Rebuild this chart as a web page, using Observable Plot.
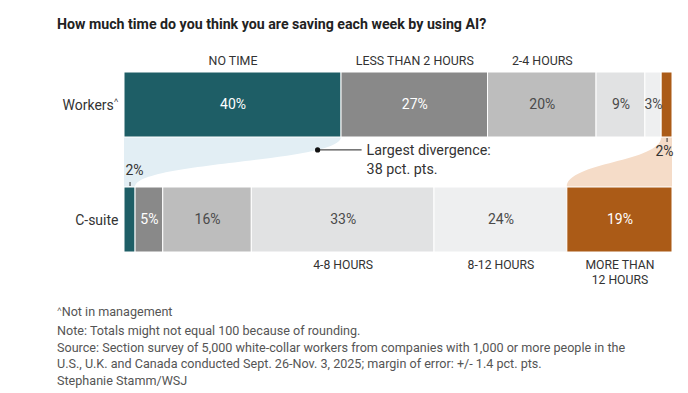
<!DOCTYPE html>
<html>
<head>
<meta charset="utf-8">
<script src="https://cdn.jsdelivr.net/npm/d3@7"></script>
<script src="https://cdn.jsdelivr.net/npm/@observablehq/plot@0.6"></script>
<style>
  body { margin: 0; background: #fff; font-family: Roboto, sans-serif; }
  #wrap { position: relative; width: 688px; height: 393px; overflow: hidden; }
  #title { position: absolute; left: 57px; top: 16px; font-weight: 700; font-size: 14.2px; line-height: 16px; color: #222; }
  #chart { position: absolute; left: 0; top: 40px; }
  #notes { position: absolute; left: 57px; top: 304px; font-size: 12.6px; line-height: 16.8px; color: #555; }
  .mark { font-size: 8px; position: relative; top: -4px; }
</style>
</head>
<body>
<div id="wrap">
  <div id="title">How much time do you think you are saving each week by using AI?</div>
  <div id="chart"></div>
  <div id="notes">
    <div><span class="mark">˄</span>Not in management</div>
    <div>Note: Totals might not equal 100 because of rounding.</div>
    <div>Source: Section survey of 5,000 white-collar workers from companies with 1,000 or more people in the</div>
    <div>U.S., U.K. and Canada conducted Sept. 26-Nov. 3, 2025; margin of error: +/- 1.4 pct. pts.</div>
    <div>Stephanie Stamm/WSJ</div>
  </div>
</div>
<script>
const categories = ["NO TIME", "LESS THAN 2 HOURS", "2-4 HOURS", "4-8 HOURS", "8-12 HOURS", "MORE THAN\n12 HOURS"];
const groups = ["Workers˄", "C-suite"];
const workers = [40, 27, 20, 9, 3, 2];
const csuite = [2, 5, 16, 33, 24, 19];
const colors = ["#1e5e66", "#898989", "#bdbdbd", "#e1e2e3", "#eeeff0", "#ab5b17"];
const ribbonColors = ["#e2eef4", "#f5dcc8"];

const series = [workers, csuite];
const table = [];
groups.forEach((g, gi) => series[gi].forEach((v, i) => table.push({group: g, gi, idx: i, category: categories[i], value: v})));

const darkIdx = new Set([0, 1, 5]);
const isSmall = d => d.value <= 2;

const stackOpts = {x: "value", y: "group", offset: "normalize"};

function ribbons(index, scales) {
  const {x, y} = scales;
  const bw = y.bandwidth();
  const yT = y(groups[0]) + bw, yB = y(groups[1]);
  const ym = (yT + yB) / 2;
  const share = (arr, i) => d3.sum(arr.slice(0, i)) / d3.sum(arr);
  const g = d3.create("svg:g");
  function link(a0, a1, b0, b1, fill) {
    const p = d3.path();
    p.moveTo(x(a0), yT); p.lineTo(x(a1), yT);
    p.bezierCurveTo(x(a1), ym, x(b1), ym, x(b1), yB);
    p.lineTo(x(b0), yB);
    p.bezierCurveTo(x(b0), ym, x(a0), ym, x(a0), yT);
    p.closePath();
    g.append("path").attr("d", p.toString()).attr("fill", fill);
  }
  const n = categories.length;
  link(0, share(workers, 1), 0, share(csuite, 1), ribbonColors[0]);
  link(share(workers, n - 1), 1, share(csuite, n - 1), 1, ribbonColors[1]);

  // annotation on the edge of the "no time" ribbon
  const s = 0.21;
  const bz = (p0, p1, p2, p3) => (1-s)**3*p0 + 3*(1-s)**2*s*p1 + 3*(1-s)*s*s*p2 + s**3*p3;
  const ax = x(share(workers, 1)), bx = x(share(csuite, 1));
  const px = bz(ax, ax, bx, bx), py = bz(yT, ym, ym, yB);
  g.append("line").attr("x1", px).attr("x2", px + 44).attr("y1", py).attr("y2", py).attr("stroke", "#222").attr("stroke-width", 1);
  g.append("circle").attr("cx", px).attr("cy", py).attr("r", 2.6).attr("fill", "#111");
  const t = g.append("text").attr("x", px + 49).attr("y", py).attr("fill", "#333")
    .attr("text-anchor", "start").attr("font-size", 14.3).attr("font-family", "Roboto, sans-serif");
  t.append("tspan").attr("x", px + 49).attr("dy", "0.35em").text("Largest divergence:");
  t.append("tspan").attr("x", px + 49).attr("dy", "1.3em").text(`${workers[0] - csuite[0]} pct. pts.`);
  return g.node();
}

const chart = Plot.plot({
  width: 688,
  height: 250,
  marginLeft: 124,
  marginRight: 16,
  marginTop: 31,
  marginBottom: 37,
  x: {domain: [0, 1], axis: null},
  y: {domain: groups, axis: null, paddingInner: 0.431, paddingOuter: 0},
  color: {domain: categories, range: colors},
  style: {fontFamily: "Roboto, sans-serif", background: "white"},
  marks: [
    ribbons,
    Plot.barX(table, Plot.stackX({...stackOpts, fill: "category", stroke: "white", strokeWidth: 1})),
    // values inside bars
    Plot.text(table, Plot.stackX({...stackOpts, text: d => (!isSmall(d) && darkIdx.has(d.idx)) ? d.value + "%" : "", fill: "white", fontSize: 14})),
    Plot.text(table, Plot.stackX({...stackOpts, text: d => (!isSmall(d) && !darkIdx.has(d.idx)) ? d.value + "%" : "", fill: "#4a4a4a", fontSize: 14})),
    // small values outside bars
    Plot.text(table, Plot.stackX2({...stackOpts, text: d => (isSmall(d) && d.gi === 0) ? d.value + "%" : "", fill: "#333", fontSize: 14, textAnchor: "end", dx: 1, dy: 47})),
    Plot.text(table, Plot.stackX1({...stackOpts, text: d => (isSmall(d) && d.gi === 1) ? d.value + "%" : "", fill: "#333", fontSize: 14, textAnchor: "start", dx: 1, dy: -49})),
    Plot.tickX(table, Plot.stackX({...stackOpts, stroke: d => (isSmall(d) && d.gi === 0) ? "#333" : "none", insetTop: 66, insetBottom: -5})),
    Plot.tickX(table, Plot.stackX({...stackOpts, stroke: d => (isSmall(d) && d.gi === 1) ? "#333" : "none", insetTop: -5, insetBottom: 66})),
    // category labels
    Plot.text(table, Plot.stackX({...stackOpts, text: d => (d.gi === 0 && d.idx < 3) ? d.category : "", fill: "#333", fontSize: 12.4, dy: -44})),
    Plot.text(table, Plot.stackX({...stackOpts, text: d => (d.gi === 1 && d.idx >= 3) ? d.category : "", fill: "#333", fontSize: 12.2, lineAnchor: "top", lineHeight: 1.25, dy: 38})),
    // group labels
    Plot.text(groups, {y: d => d, text: d => d, frameAnchor: "left", textAnchor: "end", dx: -6, dy: 1, fontSize: 14, fill: "#333"})
  ]
});

// shrink the footnote marker in the group label
d3.select(chart).selectAll("text").filter(function () { return this.textContent === groups[0]; })
  .each(function () {
    const el = d3.select(this);
    el.text(groups[0].replace("˄", ""));
    el.append("tspan").attr("font-size", 8).attr("dy", "-0.9em").text("˄");
  });

document.getElementById("chart").appendChild(chart);
</script>
</body>
</html>
